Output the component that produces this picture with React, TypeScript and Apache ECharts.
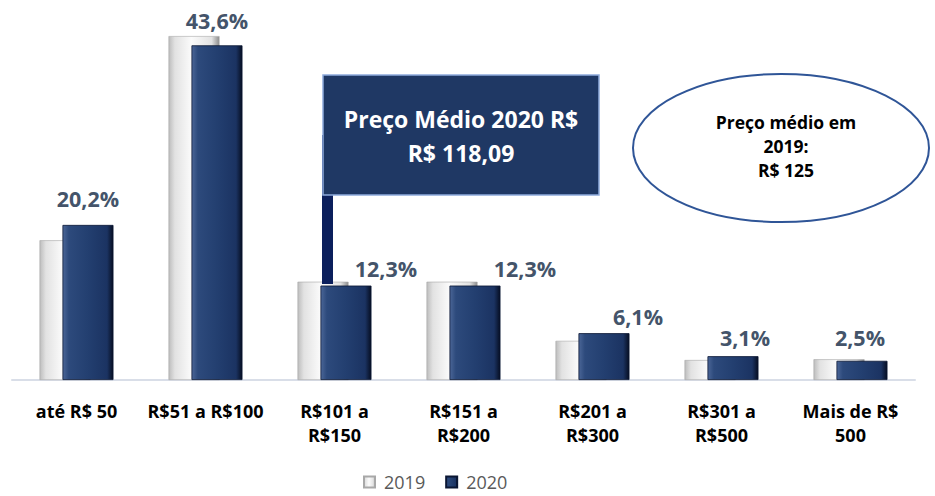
import React, { useEffect, useRef } from "react";
import * as echarts from "echarts";

const categories = [
  "até R$ 50",
  "R$51 a R$100",
  "R$101 a\nR$150",
  "R$151 a\nR$200",
  "R$201 a\nR$300",
  "R$301 a\nR$500",
  "Mais de R$\n500",
];
const values2019 = [18.2, 44.8, 12.8, 12.8, 5.1, 2.6, 2.7];
const values2020 = [20.2, 43.6, 12.3, 12.3, 6.1, 3.1, 2.5];
const labelOffsets2020 = [
  [0, -15],
  [0, -14],
  [40, -6],
  [50, -6],
  [34, -6],
  [12, -8],
  [-2, -12],
];
const seriesNames = ["2019", "2020"];
const boxLines = ["Preço Médio 2020 R$", "R$ 118,09"];
const ellipseLines = ["Preço médio em", "2019:", "R$ 125"];

const FONT = "'Open Sans', Lato, sans-serif";

export default function App() {
  const ref = useRef<HTMLDivElement>(null);
  useEffect(() => {
    if (!ref.current) return;
    const chart = echarts.init(ref.current, undefined, { renderer: "svg" });
    const grey = new echarts.graphic.LinearGradient(0, 0, 1, 0, [
      { offset: 0, color: "#bdbdbd" },
      { offset: 0.12, color: "#e2e2e2" },
      { offset: 0.45, color: "#fbfbfb" },
      { offset: 0.85, color: "#e2e2e2" },
      { offset: 1, color: "#8c8c8c" },
    ]);
    const navy = new echarts.graphic.LinearGradient(0, 0, 1, 0, [
      { offset: 0, color: "#4b6697" },
      { offset: 0.12, color: "#2d4a7c" },
      { offset: 0.5, color: "#233f70" },
      { offset: 0.88, color: "#1b3362" },
      { offset: 1, color: "#060e22" },
    ]);
    chart.setOption({
      animation: false,
      textStyle: { fontFamily: FONT },
      grid: { left: 12, right: 20, top: 10, bottom: 116, containLabel: false },
      legend: {
        data: seriesNames,
        left: 363,
        top: 473,
        padding: 0,
        icon: "rect",
        itemWidth: 11,
        itemHeight: 11,
        itemGap: 20,
        textStyle: {
          fontSize: 18,
          lineHeight: 18,
          color: "#595959",
          fontFamily: FONT,
          padding: [0, 0, 0, 4],
        },
      },
      xAxis: {
        type: "category",
        data: categories,
        axisLine: { show: true, lineStyle: { color: "#d9dee8", width: 2 } },
        axisTick: { show: false },
        axisLabel: {
          interval: 0,
          margin: 19,
          fontSize: 18,
          fontWeight: "bold",
          color: "#000000",
          lineHeight: 24,
          fontFamily: FONT,
        },
      },
      yAxis: {
        type: "value",
        min: 0,
        max: 48.2,
        show: false,
        splitLine: { show: false },
      },
      series: [
        {
          name: seriesNames[0],
          type: "bar",
          data: values2019,
          barWidth: 51,
          barGap: "-55%",
          itemStyle: { color: grey, borderColor: "#a8a8a8", borderWidth: 0.6 },
        },
        {
          name: seriesNames[1],
          type: "bar",
          data: values2020.map((v, i) => ({
            value: v,
            label: { offset: labelOffsets2020[i] },
          })),
          barWidth: 51,
          barGap: "-55%",
          itemStyle: { color: navy, borderColor: "#0a1633", borderWidth: 0.8 },
          label: {
            show: true,
            position: "top",
            distance: 0,
            fontSize: 21.5,
            fontWeight: "bold",
            color: "#44546a",
            fontFamily: FONT,
            formatter: (p: any) => String(p.value).replace(".", ",") + "%",
          },
        },
      ],
      graphic: [
        {
          type: "rect",
          z: 10,
          shape: { x: 322, y: 135, width: 11, height: 149 },
          style: { fill: "#0b1f5c" },
        },
        {
          type: "rect",
          z: 11,
          shape: { x: 323, y: 75, width: 276, height: 120 },
          style: { fill: "#1f3864", stroke: "#8eaadb", lineWidth: 1.5 },
        },
        {
          type: "text",
          z: 12,
          x: 461,
          y: 136,
          style: {
            text: boxLines.join("\n"),
            fill: "#ffffff",
            fontSize: 23,
            fontWeight: "bold",
            fontFamily: FONT,
            lineHeight: 34,
            align: "center",
            verticalAlign: "middle",
          },
        },
        {
          type: "ellipse",
          z: 10,
          shape: { cx: 781, cy: 148, rx: 148, ry: 74 },
          style: { fill: "#ffffff", stroke: "#2f5597", lineWidth: 2 },
        },
        {
          type: "text",
          z: 12,
          x: 786,
          y: 146,
          style: {
            text: ellipseLines.join("\n"),
            fill: "#000000",
            fontSize: 17.5,
            fontWeight: "bold",
            fontFamily: FONT,
            lineHeight: 24,
            align: "center",
            verticalAlign: "middle",
          },
        },
      ],
    });
    return () => chart.dispose();
  }, []);
  return <div ref={ref} style={{ width: 935, height: 496, position: "absolute", left: 0, top: 0 }} />;
}
